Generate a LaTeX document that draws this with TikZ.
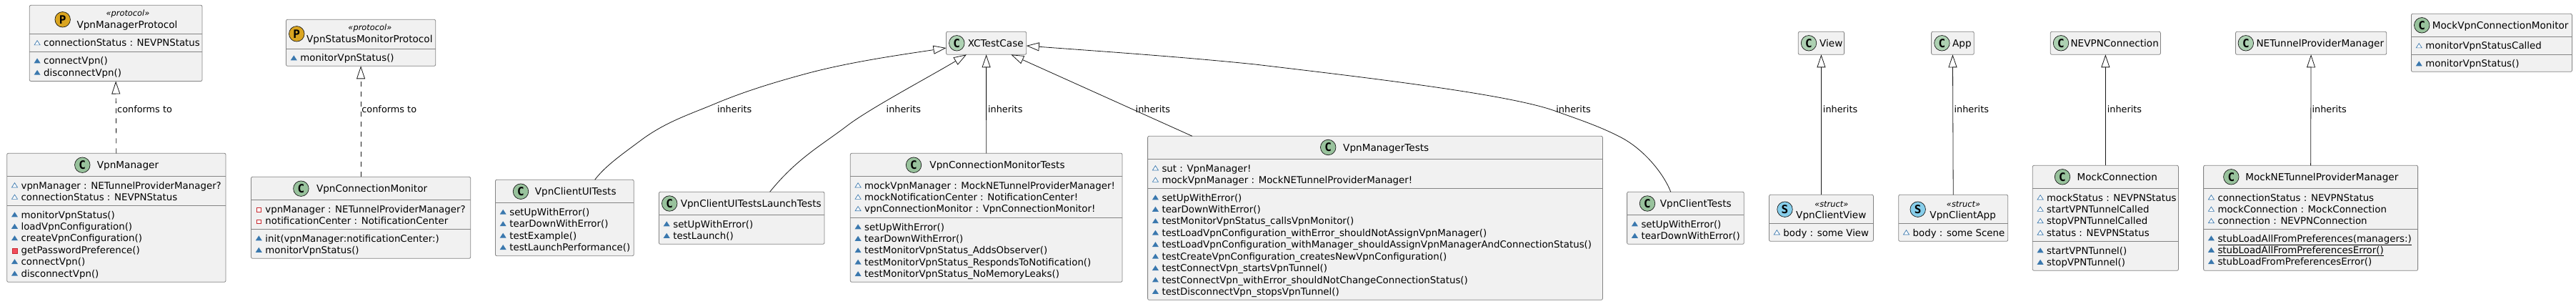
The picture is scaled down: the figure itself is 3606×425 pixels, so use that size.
\documentclass[tikz,border=0pt]{standalone}
\usepackage{fontspec}
\setmainfont{DejaVu Sans}
\newfontfamily\spotfont{DejaVu Sans Mono}
\usepackage{xcolor}
\usepackage{tikz}
\usetikzlibrary{shapes.geometric,arrows.meta,positioning}
\definecolor{boxfill}{HTML}{F1F1F1}
\definecolor{boxline}{HTML}{848484}
\definecolor{edgeline}{HTML}{181818}
\definecolor{spotpale}{HTML}{ADD1B2}
\definecolor{spotdeep}{HTML}{98C29C}
\definecolor{spotgold}{HTML}{DAA520}
\definecolor{spotsky}{HTML}{87CEEB}
\definecolor{iconblue}{HTML}{3A78AE}
\definecolor{iconred}{HTML}{C82930}
\definecolor{iconpink}{HTML}{F24D5C}
\tikzstyle{classbox} = [rectangle, draw=boxline, fill=boxfill, anchor=north west,
                        rounded corners=2pt, line width=0.8pt, inner sep=0pt, outer sep=0pt]
\tikzstyle{sepline} = [draw=boxline, line width=0.8pt]
\tikzstyle{spot} = [circle, draw=edgeline, line width=0.7pt, minimum size=21.5pt, inner sep=0pt,
                    font=\spotfont\fontsize{16}{16}\selectfont\bfseries]
\tikzstyle{cspot} = [spot, fill=spotdeep]
\tikzstyle{xspot} = [spot, fill=spotpale]
\tikzstyle{pspot} = [spot, fill=spotgold]
\tikzstyle{sspot} = [spot, fill=spotsky]
\tikzstyle{classname} = [anchor=base, inner sep=0pt, font=\fontsize{13.6}{14}\selectfont]
\tikzstyle{stereo} = [anchor=base, inner sep=0pt, font=\fontsize{11.4}{12}\selectfont\itshape]
\tikzstyle{member} = [anchor=base west, inner sep=0pt, font=\fontsize{13.35}{14}\selectfont]
\tikzstyle{edgelabel} = [anchor=west, inner sep=0pt, font=\fontsize{12.85}{13}\selectfont]
\tikzstyle{inherit} = [-{Triangle[open, length=18pt, width=12pt]}, draw=edgeline, line width=0.8pt]
\tikzstyle{conform} = [inherit, dash pattern=on 7pt off 7pt]
\tikzset{
  opm/.style={member, append after command={\pgfextra{
    \fill [iconblue] ([xshift=-13.4pt,yshift=1.7pt]\tikzlastnode.base west) -- ++(9,0) -- ++(-4.5,-6.9) -- cycle;}}},
  fieldm/.style={member, append after command={\pgfextra{
    \draw [iconblue, fill=white, line width=0.7pt] ([xshift=-12.9pt,yshift=2.1pt]\tikzlastnode.base west) -- ++(8,0) -- ++(-4,-6.2) -- cycle;}}},
  privf/.style={member, append after command={\pgfextra{
    \draw [iconred, fill=white, line width=0.8pt] ([xshift=-11.5pt,yshift=0.7pt]\tikzlastnode.base west) rectangle ++(5.6,-5.8);}}},
  privm/.style={member, append after command={\pgfextra{
    \draw [iconred, fill=iconpink, line width=0.6pt] ([xshift=-12.6pt,yshift=0pt]\tikzlastnode.base west) rectangle ++(7,-7);}}}
}
\begin{document}
\begin{tikzpicture}[x=1pt,y=-1pt]
    \useasboundingbox (0,0) rectangle (3606,425);

    \node [classbox, minimum width=241.7pt, minimum height=106.2pt] (mgrproto) at (41.3,7.3) {};
    \draw [sepline] ([yshift=-40pt]mgrproto.north west) -- ([yshift=-40pt]mgrproto.north east);
    \draw [sepline] ([yshift=-65pt]mgrproto.north west) -- ([yshift=-65pt]mgrproto.north east);
    \node [pspot] (mgrprotospot) at (87.7,27.3) {P};
    \node [stereo] (mgrprotost) at (179,23) {«protocol»};
    \node [classname] (mgrprotoname) at (178,40) {VpnManagerProtocol};
    \node [fieldm] (mgrprotof1) at (61,65) {connectionStatus : NEVPNStatus};
    \node [opm] (mgrprotom1) at (61,90) {connectVpn()};
    \node [opm] (mgrprotom2) at (61,106.45) {disconnectVpn()};

    \node [classbox, minimum width=306.3pt, minimum height=180pt] (mgr) at (9.7,214.3) {};
    \draw [sepline] ([yshift=-32pt]mgr.north west) -- ([yshift=-32pt]mgr.north east);
    \draw [sepline] ([yshift=-73pt]mgr.north west) -- ([yshift=-73pt]mgr.north east);
    \node [cspot] (mgrspot) at (115.3,230.7) {C};
    \node [classname] (mgrname) at (179,235.5) {VpnManager};
    \node [fieldm] (mgrf1) at (29.4,264) {vpnManager : NETunnelProviderManager?};
    \node [fieldm] (mgrf2) at (29.4,280.45) {connectionStatus : NEVPNStatus};
    \node [opm] (mgrm1) at (29.4,305) {monitorVpnStatus()};
    \node [opm] (mgrm2) at (29.4,321.45) {loadVpnConfiguration()};
    \node [opm] (mgrm3) at (29.4,337.9) {createVpnConfiguration()};
    \node [privm] (mgrm4) at (29.4,354.35) {getPasswordPreference()};
    \node [opm] (mgrm5) at (29.4,370.8) {connectVpn()};
    \node [opm] (mgrm6) at (29.4,387.25) {disconnectVpn()};

    \node [classbox, minimum width=209.2pt, minimum height=65pt] (statproto) at (400.5,27.3) {};
    \draw [sepline] ([yshift=-41pt]statproto.north west) -- ([yshift=-41pt]statproto.north east);
    \node [pspot] (statprotospot) at (415.3,47.3) {P};
    \node [stereo] (statprotost) at (517.9,43) {«protocol»};
    \node [classname] (statprotoname) at (517.3,60) {VpnStatusMonitorProtocol};
    \node [opm] (statprotom1) at (420.2,86) {monitorVpnStatus()};

    \node [classbox, minimum width=307.2pt, minimum height=114pt] (connmon) at (351.5,247.3) {};
    \draw [sepline] ([yshift=-32pt]connmon.north west) -- ([yshift=-32pt]connmon.north east);
    \draw [sepline] ([yshift=-73pt]connmon.north west) -- ([yshift=-73pt]connmon.north east);
    \node [cspot] (connmonspot) at (421.4,263.7) {C};
    \node [classname] (connmonname) at (520.6,268.5) {VpnConnectionMonitor};
    \node [privf] (connmonf1) at (371.2,297) {vpnManager : NETunnelProviderManager?};
    \node [privf] (connmonf2) at (371.2,313.45) {notificationCenter : NotificationCenter};
    \node [opm] (connmonm1) at (371.2,338) {init(vpnManager:notificationCenter:)};
    \node [opm] (connmonm2) at (371.2,354.45) {monitorVpnStatus()};

    \node [classbox, minimum width=193.8pt, minimum height=106.4pt] (uitests) at (693.4,251.3) {};
    \draw [sepline] ([yshift=-32.4pt]uitests.north west) -- ([yshift=-32.4pt]uitests.north east);
    \node [cspot] (uitestsspot) at (729,267.7) {C};
    \node [classname] (uitestsname) at (805.7,272.8) {VpnClientUITests};
    \node [opm] (uitestsm1) at (713.1,301.4) {setUpWithError()};
    \node [opm] (uitestsm2) at (713.1,317.85) {tearDownWithError()};
    \node [opm] (uitestsm3) at (713.1,334.3) {testExample()};
    \node [opm] (uitestsm4) at (713.1,350.75) {testLaunchPerformance()};

    \node [classbox, minimum width=231.6pt, minimum height=73pt] (launchtests) at (922.4,268.3) {};
    \draw [sepline] ([yshift=-32pt]launchtests.north west) -- ([yshift=-32pt]launchtests.north east);
    \node [cspot] (launchtestsspot) at (937.2,284.5) {C};
    \node [classname] (launchtestsname) at (1051.2,289.5) {VpnClientUITestsLaunchTests};
    \node [opm] (launchtestsm1) at (942.1,318) {setUpWithError()};
    \node [opm] (launchtestsm2) at (942.1,334.45) {testLaunch()};

    \node [classbox, minimum width=112.2pt, minimum height=32pt] (xctest) at (1324.5,44.3) {};
    \node [xspot] (xctestspot) at (1339.3,60.3) {C};
    \node [classname] (xctestname) at (1393.8,65.5) {XCTestCase};

    \node [classbox, minimum width=380.7pt, minimum height=180pt] (connmontests) at (1190.3,214.3) {};
    \draw [sepline] ([yshift=-32pt]connmontests.north west) -- ([yshift=-32pt]connmontests.north east);
    \draw [sepline] ([yshift=-90pt]connmontests.north west) -- ([yshift=-90pt]connmontests.north east);
    \node [cspot] (connmontestsspot) at (1279,230.7) {C};
    \node [classname] (connmontestsname) at (1396,235.5) {VpnConnectionMonitorTests};
    \node [fieldm] (connmontestsf1) at (1210,264) {mockVpnManager : MockNETunnelProviderManager!};
    \node [fieldm] (connmontestsf2) at (1210,280.45) {mockNotificationCenter : NotificationCenter!};
    \node [fieldm] (connmontestsf3) at (1210,296.9) {vpnConnectionMonitor : VpnConnectionMonitor!};
    \node [opm] (connmontestsm1) at (1210,322) {setUpWithError()};
    \node [opm] (connmontestsm2) at (1210,338.45) {tearDownWithError()};
    \node [opm] (connmontestsm3) at (1210,354.9) {testMonitorVpnStatus\_AddsObserver()};
    \node [opm] (connmontestsm4) at (1210,371.35) {testMonitorVpnStatus\_RespondsToNotification()};
    \node [opm] (connmontestsm5) at (1210,387.8) {testMonitorVpnStatus\_NoMemoryLeaks()};

    \node [classbox, minimum width=636.8pt, minimum height=229pt] (mgrtests) at (1606.6,190.3) {};
    \draw [sepline] ([yshift=-32pt]mgrtests.north west) -- ([yshift=-32pt]mgrtests.north east);
    \draw [sepline] ([yshift=-73pt]mgrtests.north west) -- ([yshift=-73pt]mgrtests.north east);
    \node [cspot] (mgrtestsspot) at (1859.2,206) {C};
    \node [classname] (mgrtestsname) at (1940.2,211.5) {VpnManagerTests};
    \node [fieldm] (mgrtestsf1) at (1626.3,240) {sut : VpnManager!};
    \node [fieldm] (mgrtestsf2) at (1626.3,256.45) {mockVpnManager : MockNETunnelProviderManager!};
    \node [opm] (mgrtestsm1) at (1626.3,281) {setUpWithError()};
    \node [opm] (mgrtestsm2) at (1626.3,297.45) {tearDownWithError()};
    \node [opm] (mgrtestsm3) at (1626.3,313.9) {testMonitorVpnStatus\_callsVpnMonitor()};
    \node [opm] (mgrtestsm4) at (1626.3,330.35) {testLoadVpnConfiguration\_withError\_shouldNotAssignVpnManager()};
    \node [opm] (mgrtestsm5) at (1626.3,346.8) {testLoadVpnConfiguration\_withManager\_shouldAssignVpnManagerAndConnectionStatus()};
    \node [opm] (mgrtestsm6) at (1626.3,363.25) {testCreateVpnConfiguration\_createsNewVpnConfiguration()};
    \node [opm] (mgrtestsm7) at (1626.3,379.7) {testConnectVpn\_startsVpnTunnel()};
    \node [opm] (mgrtestsm8) at (1626.3,396.15) {testConnectVpn\_withError\_shouldNotChangeConnectionStatus()};
    \node [opm] (mgrtestsm9) at (1626.3,412.6) {testDisconnectVpn\_stopsVpnTunnel()};

    \node [classbox, minimum width=163.7pt, minimum height=73pt] (clienttests) at (2277.6,268.3) {};
    \draw [sepline] ([yshift=-32pt]clienttests.north west) -- ([yshift=-32pt]clienttests.north east);
    \node [cspot] (clienttestsspot) at (2306,284.5) {C};
    \node [classname] (clienttestsname) at (2373.8,289.5) {VpnClientTests};
    \node [opm] (clienttestsm1) at (2297.3,318) {setUpWithError()};
    \node [opm] (clienttestsm2) at (2297.3,334.45) {tearDownWithError()};

    \node [classbox, minimum width=64.3pt, minimum height=32pt] (view) at (2517.3,44.3) {};
    \node [xspot] (viewspot) at (2532,60.3) {C};
    \node [classname] (viewname) at (2563.3,65.5) {View};

    \node [classbox, minimum width=59.7pt, minimum height=32pt] (app) at (2703.6,44.3) {};
    \node [xspot] (appspot) at (2718.4,60.3) {C};
    \node [classname] (appname) at (2746.4,65.5) {App};

    \node [classbox, minimum width=145.9pt, minimum height=65pt] (clientview) at (2476.5,272.3) {};
    \draw [sepline] ([yshift=-40pt]clientview.north west) -- ([yshift=-40pt]clientview.north east);
    \node [sspot] (clientviewspot) at (2498.5,292.7) {S};
    \node [stereo] (clientviewst) at (2563.8,289) {«struct»};
    \node [classname] (clientviewname) at (2563.3,305) {VpnClientView};
    \node [fieldm] (clientviewf1) at (2496.2,330) {body : some View};

    \node [classbox, minimum width=153pt, minimum height=65pt] (clientapp) at (2657.7,272.3) {};
    \draw [sepline] ([yshift=-40pt]clientapp.north west) -- ([yshift=-40pt]clientapp.north east);
    \node [sspot] (clientappspot) at (2684.7,292.7) {S};
    \node [stereo] (clientappst) at (2748.5,289) {«struct»};
    \node [classname] (clientappname) at (2747.7,305) {VpnClientApp};
    \node [fieldm] (clientappf1) at (2677.4,330) {body : some Scene};

    \node [classbox, minimum width=154.1pt, minimum height=32pt] (nevpn) at (2870.3,44.3) {};
    \node [xspot] (nevpnspot) at (2885,60.3) {C};
    \node [classname] (nevpnname) at (2960.2,65.5) {NEVPNConnection};

    \node [classbox, minimum width=211.2pt, minimum height=32pt] (netunnel) at (3129.5,44.3) {};
    \node [xspot] (netunnelspot) at (3143.8,60.3) {C};
    \node [classname] (netunnelname) at (3247.8,65.5) {NETunnelProviderManager};

    \node [classbox, minimum width=204.1pt, minimum height=147pt] (mockconn) at (2845.3,231.3) {};
    \draw [sepline] ([yshift=-32pt]mockconn.north west) -- ([yshift=-32pt]mockconn.north east);
    \draw [sepline] ([yshift=-106pt]mockconn.north west) -- ([yshift=-106pt]mockconn.north east);
    \node [cspot] (mockconnspot) at (2887,247.3) {C};
    \node [classname] (mockconnname) at (2963.7,252.5) {MockConnection};
    \node [fieldm] (mockconnf1) at (2865,281) {mockStatus : NEVPNStatus};
    \node [fieldm] (mockconnf2) at (2865,297.45) {startVPNTunnelCalled};
    \node [fieldm] (mockconnf3) at (2865,313.9) {stopVPNTunnelCalled};
    \node [fieldm] (mockconnf4) at (2865,330.35) {status : NEVPNStatus};
    \node [opm] (mockconnm1) at (2865,355) {startVPNTunnel()};
    \node [opm] (mockconnm2) at (2865,371.45) {stopVPNTunnel()};

    \node [classbox, minimum width=300pt, minimum height=147pt] (mockmgr) at (3084.6,231.3) {};
    \draw [sepline] ([yshift=-32pt]mockmgr.north west) -- ([yshift=-32pt]mockmgr.north east);
    \draw [sepline] ([yshift=-89pt]mockmgr.north west) -- ([yshift=-89pt]mockmgr.north east);
    \node [cspot] (mockmgrspot) at (3123.3,247.3) {C};
    \node [classname] (mockmgrname) at (3250.3,252.5) {MockNETunnelProviderManager};
    \node [fieldm] (mockmgrf1) at (3104.3,281) {connectionStatus : NEVPNStatus};
    \node [fieldm] (mockmgrf2) at (3104.3,297.45) {mockConnection : MockConnection};
    \node [fieldm] (mockmgrf3) at (3104.3,313.9) {connection : NEVPNConnection};
    \node [opm] (mockmgrm1) at (3104.3,338) {\underline{stubLoadAllFromPreferences(managers:)}};
    \node [opm] (mockmgrm2) at (3104.3,354.45) {\underline{stubLoadAllFromPreferencesError()}};
    \node [opm] (mockmgrm3) at (3104.3,370.9) {stubLoadFromPreferencesError()};

    \node [classbox, minimum width=225pt, minimum height=81pt] (mockmon) at (3375.4,19.3) {};
    \draw [sepline] ([yshift=-32pt]mockmon.north west) -- ([yshift=-32pt]mockmon.north east);
    \draw [sepline] ([yshift=-57pt]mockmon.north west) -- ([yshift=-57pt]mockmon.north east);
    \node [cspot] (mockmonspot) at (3390.2,35.3) {C};
    \node [classname] (mockmonname) at (3500.2,40.5) {MockVpnConnectionMonitor};
    \node [fieldm] (mockmonf1) at (3395.1,69) {monitorVpnStatusCalled};
    \node [opm] (mockmonm1) at (3395.1,94) {monitorVpnStatus()};

    \draw [conform] (mgr.north) -- (mgrproto.south) node [edgelabel] (lblconforma) at (163.8,152.7) {conforms to};
    \draw [conform] (connmon.north) -- (statproto.south) node [edgelabel] (lblconformb) at (506,152.7) {conforms to};
    \draw [inherit] ([xshift=42.4pt]uitests.north) .. controls (847.7,231.3) and (874.4,213.2) .. (896.4,196.7)
        .. controls (931.4,170.4) and (966,159.7) .. (1001,145)
        .. controls (1043,127.4) and (1086,114.5) .. (1128.6,103)
        .. controls (1190,86.4) and (1265,76) .. ([yshift=-6.7pt]xctest.west)
        node [edgelabel] (lblinherita) at (1003.6,152.7) {inherits};
    \draw [inherit] ([xshift=39.4pt]launchtests.north) .. controls (1115,222) and (1150,203) .. (1184.7,176.7)
        .. controls (1215,153) and (1300,108) .. ([xshift=-27.6pt]xctest.south)
        node [edgelabel] (lblinheritb) at (1240.3,152.7) {inherits};
    \draw [inherit] (connmontests.north) -- (xctest.south) node [edgelabel] (lblinheritc) at (1382.7,152.7) {inherits};
    \draw [inherit] ([xshift=-256.1pt]mgrtests.north) -- ([xshift=34.7pt]xctest.south)
        node [edgelabel] (lblinheritd) at (1589.3,152.7) {inherits};
    \draw [inherit] ([xshift=-20.65pt]clienttests.north) .. controls (2328,241) and (2300,208) .. (2268.4,191.7)
        .. controls (2238,176) and (2207,166) .. (2176.5,155)
        .. controls (2110,131) and (1900,107) .. (1757,90)
        .. controls (1650,79) and (1530,71) .. ([yshift=-3.7pt]xctest.east)
        node [edgelabel] (lblinherite) at (2178,152.7) {inherits};
    \draw [inherit] (clientview.north) -- (view.south) node [edgelabel] (lblinheritf) at (2551.5,152.7) {inherits};
    \draw [inherit] (clientapp.north) -- (app.south) node [edgelabel] (lblinheritg) at (2735.2,152.7) {inherits};
    \draw [inherit] (mockconn.north) -- (nevpn.south) node [edgelabel] (lblinherith) at (2949.4,152.7) {inherits};
    \draw [inherit] (mockmgr.north) -- (netunnel.south) node [edgelabel] (lblinheriti) at (3236.1,152.7) {inherits};
\end{tikzpicture}
\end{document}
